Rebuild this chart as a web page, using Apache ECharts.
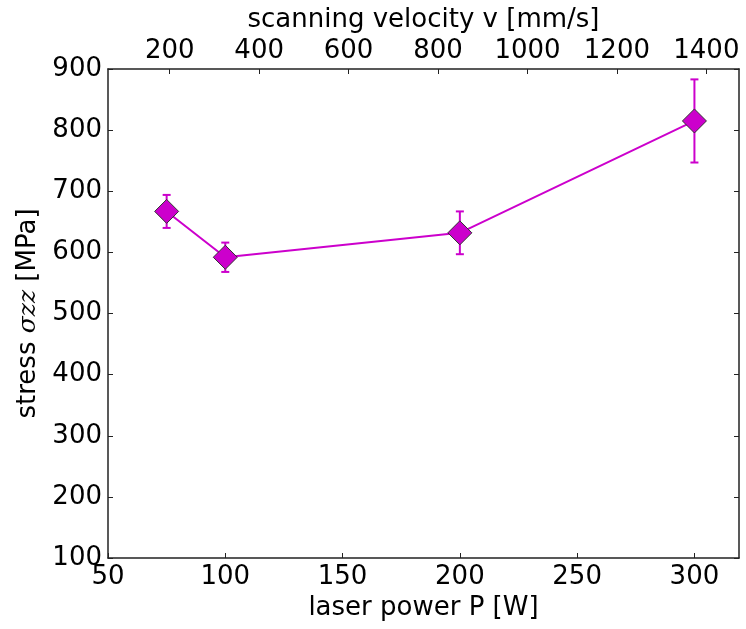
<!DOCTYPE html>
<html>
<head>
<meta charset="utf-8">
<title>stress vs laser power</title>
<script src="https://cdn.jsdelivr.net/npm/echarts@6/dist/echarts.min.js"></script>
<style>
  html, body { margin: 0; padding: 0; background: #ffffff; }
  #chart { width: 746px; height: 629px; }
</style>
</head>
<body>
<div id="chart"></div>
<script>
// Measured residual stress for each laser power setting
const powerW = [75, 100, 200, 300];
const stressMPa = [667, 592, 632, 815];
const stressErr = [27, 24, 35, 68];

// Axis ranges
const powerRange = [50, 319];
const velocityRange = [62, 1473];
const stressRange = [100, 900];

const MAGENTA = '#cc00cc';
const FONT = 'DejaVu Sans';
const FONT_SIZE = 26;
const AXIS_COLOR = '#222222';

const chart = echarts.init(document.getElementById('chart'), null, { renderer: 'canvas' });

const errorData = powerW.map((p, i) => [p, stressMPa[i] - stressErr[i], stressMPa[i] + stressErr[i]]);
const pointData = powerW.map((p, i) => [p, stressMPa[i]]);

const axisLine = { show: true, lineStyle: { color: AXIS_COLOR, width: 1.5 } };
const tickInside = { show: true, inside: true, length: 5, lineStyle: { color: AXIS_COLOR, width: 1 } };
const labelStyle = { color: '#000', fontFamily: FONT, fontSize: FONT_SIZE };

chart.setOption({
  animation: false,
  backgroundColor: '#ffffff',
  grid: { left: 108, right: 7, top: 69, bottom: 71, containLabel: false },
  xAxis: [
    {
      type: 'value',
      position: 'bottom',
      min: powerRange[0],
      max: powerRange[1],
      interval: 50,
      name: 'laser power P [W]',
      nameLocation: 'middle',
      nameGap: 36,
      nameTextStyle: labelStyle,
      axisLine: axisLine,
      axisTick: tickInside,
      axisLabel: Object.assign({ margin: 6, showMaxLabel: false,
        formatter: v => (v % 50 === 0 ? String(v) : '') }, labelStyle),
      splitLine: { show: false }
    },
    {
      type: 'value',
      position: 'top',
      min: velocityRange[0],
      max: velocityRange[1],
      splitNumber: 7,
      name: 'scanning velocity v [mm/s]',
      nameLocation: 'middle',
      nameGap: 36,
      nameTextStyle: labelStyle,
      axisLine: axisLine,
      axisTick: tickInside,
      axisLabel: Object.assign({ margin: 5, showMinLabel: false, showMaxLabel: false,
        formatter: v => (v % 200 === 0 ? String(v) : '') }, labelStyle),
      splitLine: { show: false }
    }
  ],
  yAxis: [
    {
      type: 'value',
      position: 'left',
      min: stressRange[0],
      max: stressRange[1],
      interval: 100,
      name: '{a|stress }{b|σzz}{a| [MPa]}',
      nameLocation: 'middle',
      nameGap: 62,
      nameTextStyle: {
        color: '#000',
        fontFamily: FONT,
        fontSize: FONT_SIZE,
        rich: {
          a: { fontFamily: FONT, fontSize: FONT_SIZE, color: '#000' },
          b: { fontFamily: 'DejaVu Serif', fontStyle: 'italic', fontSize: FONT_SIZE - 1, color: '#000' }
        }
      },
      axisLine: axisLine,
      axisTick: tickInside,
      axisLabel: Object.assign({ margin: 6 }, labelStyle),
      splitLine: { show: false }
    },
    {
      type: 'value',
      position: 'right',
      min: stressRange[0],
      max: stressRange[1],
      interval: 100,
      axisLine: axisLine,
      axisTick: tickInside,
      axisLabel: { show: false },
      splitLine: { show: false }
    }
  ],
  series: [
    {
      type: 'custom',
      name: 'error',
      xAxisIndex: 0,
      yAxisIndex: 0,
      z: 1,
      encode: { x: 0, y: [1, 2] },
      data: errorData,
      renderItem(params, api) {
        const x = api.value(0);
        const lo = api.coord([x, api.value(1)]);
        const hi = api.coord([x, api.value(2)]);
        const cap = 4;
        const style = { stroke: MAGENTA, lineWidth: 2 };
        return {
          type: 'group',
          children: [
            { type: 'line', shape: { x1: lo[0], y1: lo[1], x2: hi[0], y2: hi[1] }, style },
            { type: 'line', shape: { x1: lo[0] - cap, y1: lo[1], x2: lo[0] + cap, y2: lo[1] }, style },
            { type: 'line', shape: { x1: hi[0] - cap, y1: hi[1], x2: hi[0] + cap, y2: hi[1] }, style }
          ]
        };
      }
    },
    {
      type: 'line',
      name: 'stress',
      xAxisIndex: 0,
      yAxisIndex: 0,
      z: 3,
      data: pointData,
      symbol: 'diamond',
      symbolSize: 24,
      showAllSymbol: true,
      lineStyle: { color: MAGENTA, width: 2 },
      itemStyle: { color: MAGENTA, borderColor: '#333333', borderWidth: 1 }
    }
  ]
});
</script>
</body>
</html>
